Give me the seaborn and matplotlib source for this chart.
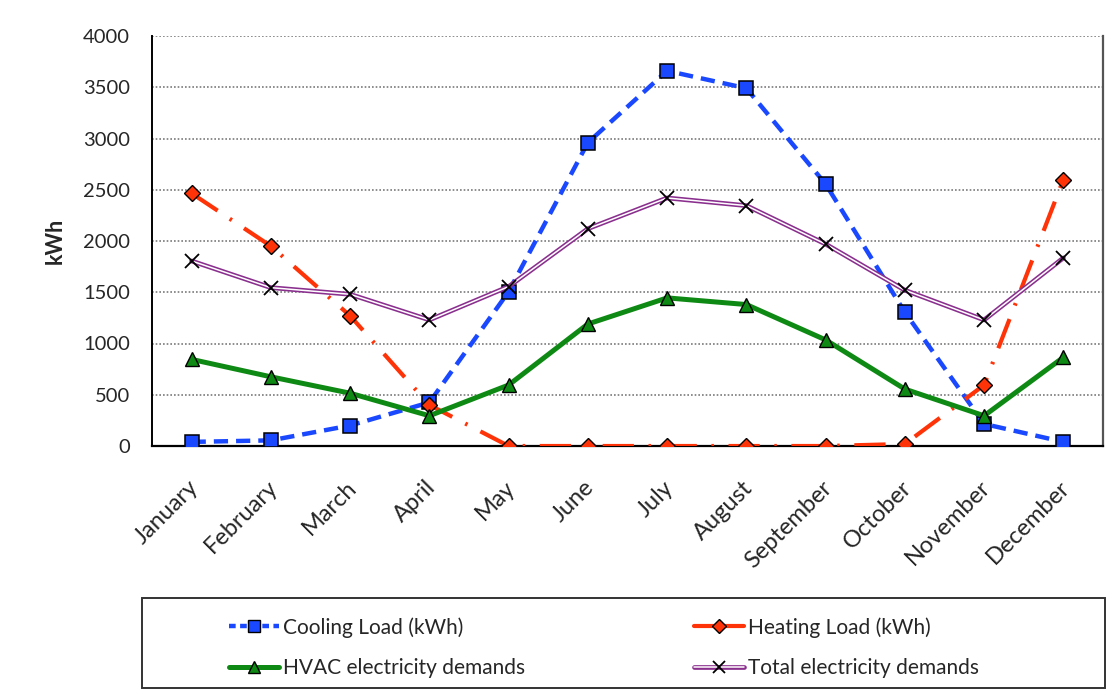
import numpy as np
import pandas as pd
import matplotlib
matplotlib.use("Agg")
import matplotlib.pyplot as plt
from matplotlib.patches import Rectangle
from matplotlib.transforms import ScaledTranslation
from matplotlib.lines import Line2D
import seaborn as sns

months = ["January", "February", "March", "April", "May", "June", "July",
          "August", "September", "October", "November", "December"]
cooling_load = [40, 55, 200, 425, 1505, 2960, 3660, 3490, 2555, 1305, 215, 40]
heating_load = [2465, 1950, 1270, 400, 0, 0, 0, 0, 0, 20, 595, 2600]
hvac_demand = [845, 675, 515, 295, 595, 1190, 1445, 1380, 1035, 555, 295, 865]
total_demand = [1805, 1545, 1480, 1230, 1555, 2120, 2420, 2345, 1970, 1520, 1230, 1835]
y_ticks = [0, 500, 1000, 1500, 2000, 2500, 3000, 3500, 4000]

sns.set_style("white")
plt.rcParams["font.family"] = ["Lato", "DejaVu Sans"]

BLUE = "#1A48FF"
RED = "#FF3308"
GREEN = "#0E8A14"
PURPLE = "#8A2F8E"

fig = plt.figure(figsize=(11.15, 6.93), dpi=100)
ax = fig.add_axes([152 / 1115, 1 - 446 / 693, (1103 - 152) / 1115, (446 - 36) / 693])

df = pd.DataFrame({
    "pos": np.arange(len(months)),
    "cooling": cooling_load,
    "heating": heating_load,
    "hvac": hvac_demand,
    "total": total_demand,
})

sns.lineplot(data=df, x="pos", y="cooling", ax=ax, color=BLUE, lw=3.2,
             linestyle=(0, (3.2, 1.8)), marker="s", markersize=9.5,
             markerfacecolor=BLUE, markeredgecolor="black", markeredgewidth=1.1,
             zorder=3)
sns.lineplot(data=df, x="pos", y="heating", ax=ax, color=RED, lw=3.0,
             linestyle=(0, (7.5, 3.5, 0.6, 3.5)), marker="D", markersize=8,
             markerfacecolor=RED, markeredgecolor="black", markeredgewidth=1.0,
             zorder=4)
sns.lineplot(data=df, x="pos", y="hvac", ax=ax, color=GREEN, lw=3.6,
             marker="^", markersize=10, markerfacecolor=GREEN,
             markeredgecolor="black", markeredgewidth=1.0, zorder=5)
# double-stroke purple line: wide purple stroke with a thin white core
sns.lineplot(data=df, x="pos", y="total", ax=ax, color=PURPLE, lw=3.4,
             zorder=6)
sns.lineplot(data=df, x="pos", y="total", ax=ax, color="white", lw=1.1,
             marker="x", markersize=10, markeredgecolor="black",
             markeredgewidth=1.3, zorder=7)

ax.set_xlim(-0.5, 11.5)
ax.set_ylim(0, 4000)
ax.set_yticks(y_ticks)
ax.set_yticklabels([str(v) for v in y_ticks], fontsize=14.5)
ax.set_xticks(np.arange(len(months)))
ax.set_xticklabels(months, fontsize=17, rotation=45, ha="right",
                   va="center", rotation_mode="anchor")
ax.set_xticks(np.arange(-0.5, 12.0, 1.0), minor=True)
ax.tick_params(axis="x", which="major", length=0, pad=27.5)
ax.tick_params(axis="x", which="minor", direction="out", length=6,
               width=1.3, color="black")
ax.tick_params(axis="y", direction="out", length=5, width=1.2,
               color="black", pad=11)
for lbl in ax.get_xticklabels():
    lbl.set_transform(lbl.get_transform()
                      + ScaledTranslation(3 / 100, 0, fig.dpi_scale_trans))

ax.set_xlabel("")
ax.set_ylabel("")
for y in y_ticks[1:]:
    ax.axhline(y, color="#7a7a7a", lw=1.2, linestyle=(0, (1, 1.2)), zorder=1)

ax.spines["top"].set_visible(False)
ax.spines["left"].set_color("black")
ax.spines["left"].set_linewidth(1.4)
ax.spines["bottom"].set_color("black")
ax.spines["bottom"].set_linewidth(1.6)
ax.spines["right"].set_color("#555555")
ax.spines["right"].set_linewidth(1.6)

fig.text(55 / 1115, 1 - 241 / 693, "kWh", rotation=90, fontsize=15.5,
         fontweight="bold", ha="center", va="center")

# legend frame and entries
fig.patches.append(Rectangle((142 / 1115, 1 - 688 / 693), (1105 - 142) / 1115,
                             (688 - 598) / 693, transform=fig.transFigure,
                             fill=False, edgecolor="#333333", lw=1.4))

h_cool = Line2D([], [], color=BLUE, lw=3.2, linestyle=(0, (1.5, 1.0)),
                marker="s", markersize=8, markerfacecolor=BLUE,
                markeredgecolor="black")
h_heat = Line2D([], [], color=RED, lw=3.0, marker="D", markersize=7,
                markerfacecolor=RED, markeredgecolor="black")
h_hvac = Line2D([], [], color=GREEN, lw=3.6, marker="^", markersize=9,
                markerfacecolor=GREEN, markeredgecolor="black")
h_total = Line2D([], [], color=PURPLE, lw=3.4)
h_total_core = Line2D([], [], color="white", lw=1.1, marker="x",
                      markersize=9, markeredgecolor="black",
                      markeredgewidth=1.3)

fig.legend(
    [h_cool, h_hvac, h_heat, (h_total, h_total_core)],
    ["Cooling Load (kWh)", "HVAC electricity demands",
     "Heating Load (kWh)", "Total electricity demands"],
    ncol=2, loc="upper left", bbox_to_anchor=(229 / 1115, 1 - 617 / 693),
    bbox_transform=fig.transFigure, frameon=False, fontsize=15,
    handlelength=2.4, handletextpad=0.2, columnspacing=8.1,
    labelspacing=0.97, borderpad=0, borderaxespad=0,
)

fig.savefig("out.png", dpi=100)
